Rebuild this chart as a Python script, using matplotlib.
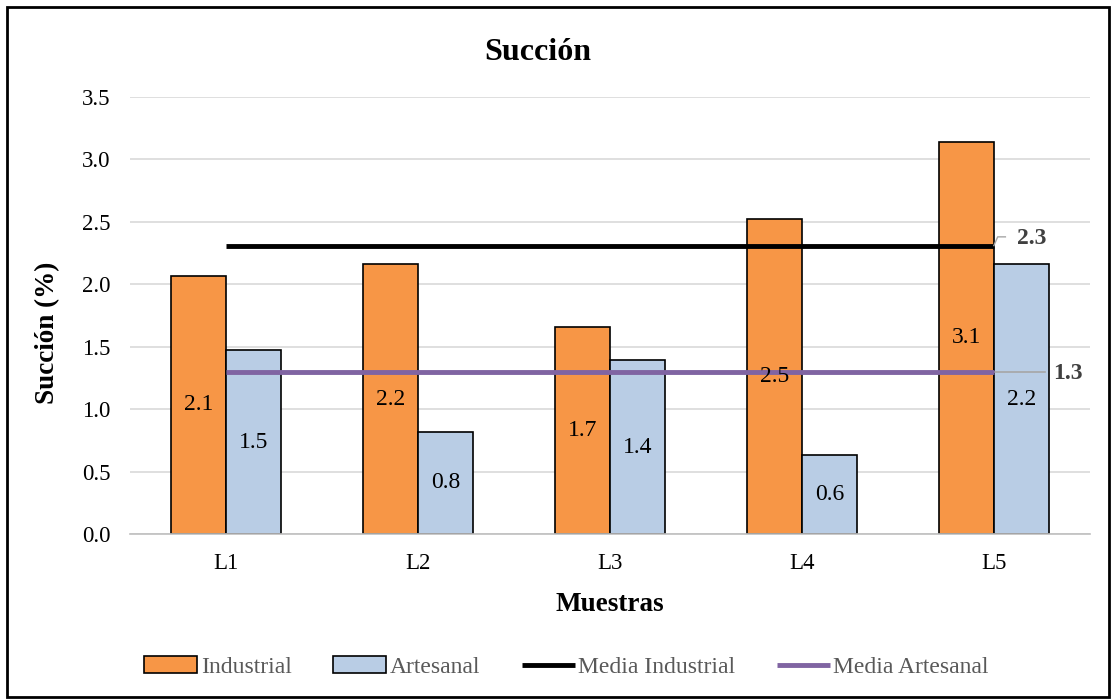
import numpy as np
import matplotlib.pyplot as plt
from matplotlib.patches import Rectangle

plt.rcParams['font.family'] = ['Liberation Serif', 'DejaVu Serif']

muestras = ['L1', 'L2', 'L3', 'L4', 'L5']
industrial = [2.07, 2.16, 1.66, 2.52, 3.14]
artesanal = [1.47, 0.82, 1.39, 0.63, 2.16]

c_ind = '#F79646'
c_art = '#B9CDE5'
c_media_art = '#8064A2'

media_ind = np.mean(industrial)
media_art = np.mean(artesanal)

fig = plt.figure(figsize=(11.13, 7), dpi=100)
ax = fig.add_axes([0.1168, 0.2371, 0.8624, 0.6243])

x = np.arange(len(muestras))
w = 0.286
b1 = ax.bar(x - w / 2, industrial, w, color=c_ind, edgecolor='black', linewidth=1.2,
            label='Industrial', zorder=2)
b2 = ax.bar(x + w / 2, artesanal, w, color=c_art, edgecolor='black', linewidth=1.2,
            label='Artesanal', zorder=2)

# etiquetas centradas dentro de cada barra
for bars, vals in ((b1, industrial), (b2, artesanal)):
    for rect, v in zip(bars, vals):
        ax.text(rect.get_x() + rect.get_width() / 2, v / 2, f'{v:.1f}',
                ha='center', va='center', fontsize=17, color='black', zorder=4)

# lineas de media
l1, = ax.plot([x[0], x[-1]], [media_ind, media_ind], color='black', lw=3.5,
              label='Media Industrial', zorder=3, solid_capstyle='butt')
l2, = ax.plot([x[0], x[-1]], [media_art, media_art], color=c_media_art, lw=3.5,
              label='Media Artesanal', zorder=3, solid_capstyle='butt')

# etiquetas de las medias con linea guia
ax.plot([x[-1], x[-1] + 0.02, x[-1] + 0.06], [media_ind, 2.38, 2.38],
        color='#A6A6A6', lw=1, clip_on=False, zorder=3)
ax.text(x[-1] + 0.12, 2.37, f'{media_ind:.1f}', ha='left', va='center',
        fontsize=17, fontweight='bold', color='#404040', clip_on=False)
ax.plot([x[-1], x[-1] + 0.266], [media_art, media_art],
        color='#A6A6A6', lw=1.2, clip_on=False, zorder=2.5)
ax.text(x[-1] + 0.31, media_art - 0.01, f'{media_art:.1f}', ha='left', va='center',
        fontsize=17, fontweight='bold', color='#404040', clip_on=False)

ax.set_xlim(-0.5, 4.5)
ax.set_ylim(0, 3.5)
ax.set_yticks(np.arange(0, 3.51, 0.5))
ax.set_yticklabels([f'{t:.1f}' for t in np.arange(0, 3.51, 0.5)])
ax.set_xticks(x)
ax.set_xticklabels(muestras)
ax.tick_params(axis='both', length=0, labelsize=16.5, colors='black')
ax.tick_params(axis='x', pad=14)
ax.tick_params(axis='y', pad=14)
ax.grid(axis='y', color='#D9D9D9', lw=1.2, zorder=0)
ax.set_axisbelow(True)
for s in ('left', 'right', 'top'):
    ax.spines[s].set_visible(False)
ax.spines['bottom'].set_color('#BFBFBF')
ax.spines['bottom'].set_linewidth(1.2)

ax.set_ylabel('Succión (%)', fontsize=19.5, fontweight='bold')
ax.yaxis.set_label_coords(-0.073, 0.46)
ax.set_xlabel('Muestras', fontsize=19.5, fontweight='bold')
ax.xaxis.set_label_coords(0.5, -0.133)
fig.text(0.4834, 0.925, 'Succión', ha='center', va='center', fontsize=23, fontweight='bold')

leg = fig.legend(handles=[b1, b2, l1, l2], loc='center', bbox_to_anchor=(0.509, 0.047),
                 ncol=4, frameon=False, fontsize=17, handlelength=2.25,
                 handletextpad=0.15, columnspacing=1.75)
for t in leg.get_texts():
    t.set_color('#595959')

# marco exterior
fig.patches.append(Rectangle((0.0063, 0.004), 0.99, 0.986, transform=fig.transFigure,
                             fill=False, edgecolor='black', lw=2))

fig.savefig('out.png', dpi=100)
